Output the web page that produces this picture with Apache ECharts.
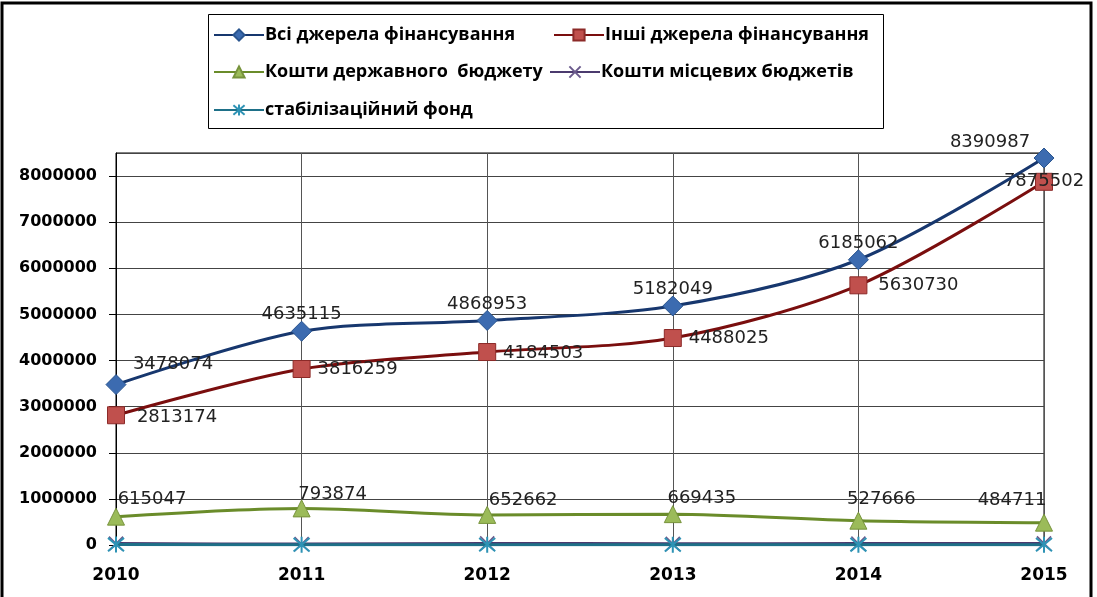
<!DOCTYPE html>
<html>
<head>
<meta charset="utf-8">
<script src="https://cdn.jsdelivr.net/npm/echarts@6/dist/echarts.min.js"></script>
<style>
html,body{margin:0;padding:0;background:#fff;}
#chart{width:1097px;height:597px;}
</style>
</head>
<body>
<div id="chart"></div>
<script>
var years = ['2010','2011','2012','2013','2014','2015'];
var allSources = [3478074, 4635115, 4868953, 5182049, 6185062, 8390987];
var otherSources = [2813174, 3816259, 4184503, 4488025, 5630730, 7875502];
var stateBudget = [615047, 793874, 652662, 669435, 527666, 484711];
var localBudgets = [30000, 20000, 35000, 25000, 30000, 35000];
var stabFund = [10000, 5000, 8000, 5000, 6000, 8000];
var seriesNames = ['Всі джерела фінансування','Інші джерела фінансування','Кошти державного  бюджету','Кошти місцевих бюджетів','стабілізаційний фонд'];

// зміщення підписів від центру точки
var blueOffsets = [[57,-20],[0,-17],[0,-16],[0,-17],[0,-16],[-54,-16]];
var redOffsets = [[61,2],[56,0],[56,1],[56,0],[60,0],[0,0]];
var greenOffsets = [[36,-17],[31,-14],[36,-15],[29,-16],[23,-21],[-32,-22]];

function withLabels(values, offsets){
	var out = [];
	for (var i = 0; i < values.length; i++) {
		out.push({value: values[i], label: {show: true, position: 'inside', offset: offsets[i]}});
	}
	return out;
}

var labelStyle = {fontFamily: 'DejaVu Sans', fontSize: 18, color: '#222'};

var myChart = echarts.init(document.getElementById('chart'));
var option = {
	backgroundColor: '#fff',
	animation: false,
	graphic: [
		{type: 'rect', shape: {x: 2, y: 3, width: 1089, height: 600}, style: {fill: 'none', stroke: '#000', lineWidth: 3}},
		{type: 'rect', shape: {x: 208.5, y: 14.5, width: 675, height: 114}, style: {fill: 'none', stroke: '#000', lineWidth: 1}}
	],
	legend: [
		{left: 213, top: 26, data: [seriesNames[0]]},
		{left: 553, top: 26, data: [seriesNames[1]]},
		{left: 213, top: 63, data: [seriesNames[2]]},
		{left: 549, top: 63, data: [seriesNames[3]]},
		{left: 213, top: 101, data: [seriesNames[4]]}
	].map(function(l){
		l.itemWidth = 50; l.itemHeight = 14; l.itemGap = 0; l.padding = 0;
		l.textStyle = {fontFamily: 'Open Sans', fontWeight: 'bold', fontSize: 18, color: '#000', padding: [0,0,0,-4]};
		return l;
	}),
	grid: {left: 116, right: 53, top: 153, bottom: 52, show: true, borderColor: '#000', borderWidth: 1},
	xAxis: {
		type: 'category',
		data: years,
		boundaryGap: false,
		axisLine: {lineStyle: {color: '#000'}},
		axisTick: {show: false},
		splitLine: {show: true, lineStyle: {color: '#555', width: 1}},
		axisLabel: {fontFamily: 'DejaVu Sans', fontWeight: 'bold', fontSize: 17, color: '#000', margin: 22}
	},
	yAxis: {
		type: 'value',
		min: 0,
		max: 8500000,
		interval: 1000000,
		axisLine: {show: true, lineStyle: {color: '#000'}},
		axisTick: {show: true, length: 7, lineStyle: {color: '#000'}},
		splitLine: {lineStyle: {color: '#444', width: 1}},
		axisLabel: {
			fontFamily: 'DejaVu Sans', fontWeight: 'bold', fontSize: 16, color: '#000', margin: 19, showMaxLabel: false,
			formatter: function(v){ return String(v); }
		}
	},
	series: [
		{
			name: seriesNames[0], type: 'line', smooth: 0.3,
			data: withLabels(allSources, blueOffsets),
			symbol: 'diamond', symbolSize: 20,
			lineStyle: {color: '#17376E', width: 3},
			itemStyle: {color: '#3C6BB0', borderColor: '#2A558F', borderWidth: 1},
			label: labelStyle, z: 5
		},
		{
			name: seriesNames[1], type: 'line', smooth: 0.3,
			data: withLabels(otherSources, redOffsets),
			symbol: 'rect', symbolSize: 17,
			lineStyle: {color: '#7A0E0E', width: 3},
			itemStyle: {color: '#C0504D', borderColor: '#8C2A28', borderWidth: 1},
			label: labelStyle, z: 4
		},
		{
			name: seriesNames[2], type: 'line', smooth: 0.3,
			data: withLabels(stateBudget, greenOffsets),
			symbol: 'triangle', symbolSize: 17,
			lineStyle: {color: '#6A8C2A', width: 3},
			itemStyle: {color: '#9BBB59', borderColor: '#77933C', borderWidth: 1},
			label: labelStyle, z: 3
		},
		{
			name: seriesNames[3], type: 'line', smooth: 0.3,
			data: localBudgets,
			symbol: 'path://M0,0L10,10M10,0L0,10', symbolSize: 14,
			lineStyle: {color: '#4B3A6E', width: 3},
			itemStyle: {color: 'none', borderColor: '#6A5A8C', borderWidth: 1.5},
			z: 2
		},
		{
			name: seriesNames[4], type: 'line', smooth: 0.3,
			data: stabFund,
			symbol: 'path://M0,0L10,10M10,0L0,10M5,-1L5,11', symbolSize: 16,
			lineStyle: {color: '#1E7088', width: 3},
			itemStyle: {color: 'none', borderColor: '#2E93B5', borderWidth: 2},
			z: 3
		}
	]
};
myChart.setOption(option);
</script>
</body>
</html>
